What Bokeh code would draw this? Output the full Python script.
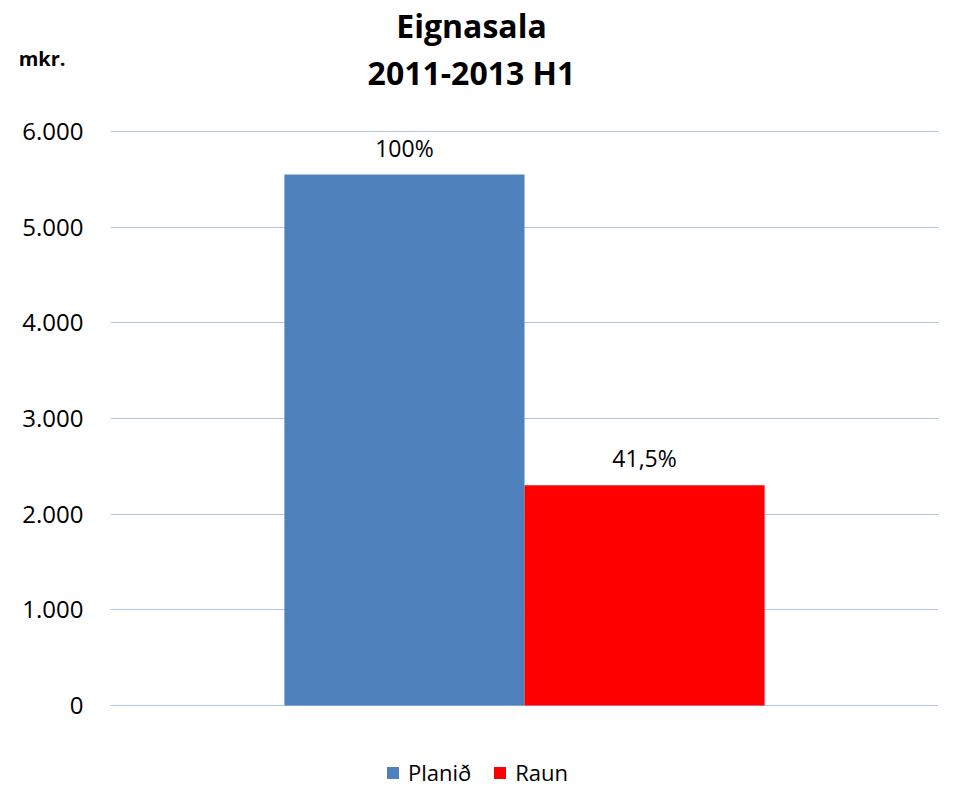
from bokeh.plotting import figure
from bokeh.models import (ColumnDataSource, FactorRange, Range1d, FixedTicker,
                          Legend, LegendItem, LinearAxis)
from bokeh.transform import dodge
from bokeh.embed import file_html
from bokeh.resources import INLINE
from bokeh.core.properties import value

# ---- data ----
categories = ["Eignasala"]
series = ["Planið", "Raun"]
values = [5550, 2303]
bar_labels = ["100%", "41,5%"]
colors = ["#4F81BD", "#FF0000"]
y_ticks = [0, 1000, 2000, 3000, 4000, 5000, 6000]
y_tick_labels = ["0", "1.000", "2.000", "3.000", "4.000", "5.000", "6.000"]
title_lines = ["Eignasala", "2011-2013 H1"]
unit_label = "mkr."

FONT = "Open Sans"
W, H = 939, 789
LEFT, RIGHT = 110, 1

# frame spans the full height; value axis 0..6000 sits at 705..131 px
p = figure(width=W, height=H, output_backend="svg", toolbar_location=None,
           x_range=FactorRange(factors=categories, range_padding=0),
           y_range=Range1d(-878, 7369),
           min_border_left=LEFT, min_border_right=RIGHT,
           min_border_top=0, min_border_bottom=0)
# pixel-like helper range (top = 0) for the title texts and unit label
p.extra_y_ranges = {"px": Range1d(H, 0)}

p.outline_line_color = None
p.background_fill_color = "white"
p.border_fill_color = "white"

p.xaxis.visible = False
p.xgrid.grid_line_color = None
p.ygrid.ticker = FixedTicker(ticks=y_ticks)
p.ygrid.grid_line_color = "#B4C6E7"
p.ygrid.grid_line_width = 1

yax = p.left[0]
yax.ticker = FixedTicker(ticks=y_ticks)
yax.major_label_overrides = {t: l for t, l in zip(y_ticks, y_tick_labels)}
yax.axis_line_color = None
yax.major_tick_line_color = None
yax.minor_tick_line_color = None
yax.major_tick_out = 0
yax.major_tick_in = 0
yax.major_label_standoff = 27
yax.major_label_text_font = FONT
yax.major_label_text_font_size = "24px"
yax.major_label_text_color = "#000000"

# unit label "mkr." as a second, label-only axis
unit_axis = LinearAxis(y_range_name="px", ticker=FixedTicker(ticks=[58]),
                       major_label_overrides={58: unit_label},
                       axis_line_color=None, major_tick_line_color=None,
                       minor_tick_line_color=None, major_tick_out=0, major_tick_in=0,
                       major_label_standoff=-46, major_label_text_font=FONT,
                       major_label_text_font_size="20px",
                       major_label_text_font_style="bold",
                       major_label_text_color="#000000")
p.add_layout(unit_axis, "left")

# title (two lines, centred left of the plot centre as in the original)
p.text(x=[categories[0], categories[0]], y=[25, 72], text=title_lines,
       y_range_name="px", x_offset=-53,
       text_align="center", text_baseline="alphabetic", text_font=value(FONT),
       text_font_size="32px", text_font_style="bold", text_color="#000000")

bar_w = 0.29
offsets = [-bar_w / 2, bar_w / 2]
items = []
for i, name in enumerate(series):
    src = ColumnDataSource(dict(cat=categories, val=[values[i]], lab=[bar_labels[i]]))
    r = p.vbar(x=dodge("cat", offsets[i], range=p.x_range), top="val", width=bar_w,
               source=src, fill_color=colors[i], line_color=None)
    p.text(x=dodge("cat", offsets[i], range=p.x_range), y="val", text="lab", source=src,
           text_align="center", text_baseline="alphabetic", y_offset=-27,
           text_font=value(FONT), text_font_size="23px", text_color="#000000")
    items.append(LegendItem(label=name, renderers=[r]))

legend = Legend(items=items, orientation="horizontal", location=(275, 2),
                glyph_width=15, glyph_height=15, label_standoff=8, spacing=21,
                padding=0, margin=0, label_text_font=FONT, label_text_font_size="22px",
                label_text_color="#000000", background_fill_alpha=0, border_line_alpha=0)
p.add_layout(legend, "center")

open("out.html", "w").write(file_html(p, INLINE))
